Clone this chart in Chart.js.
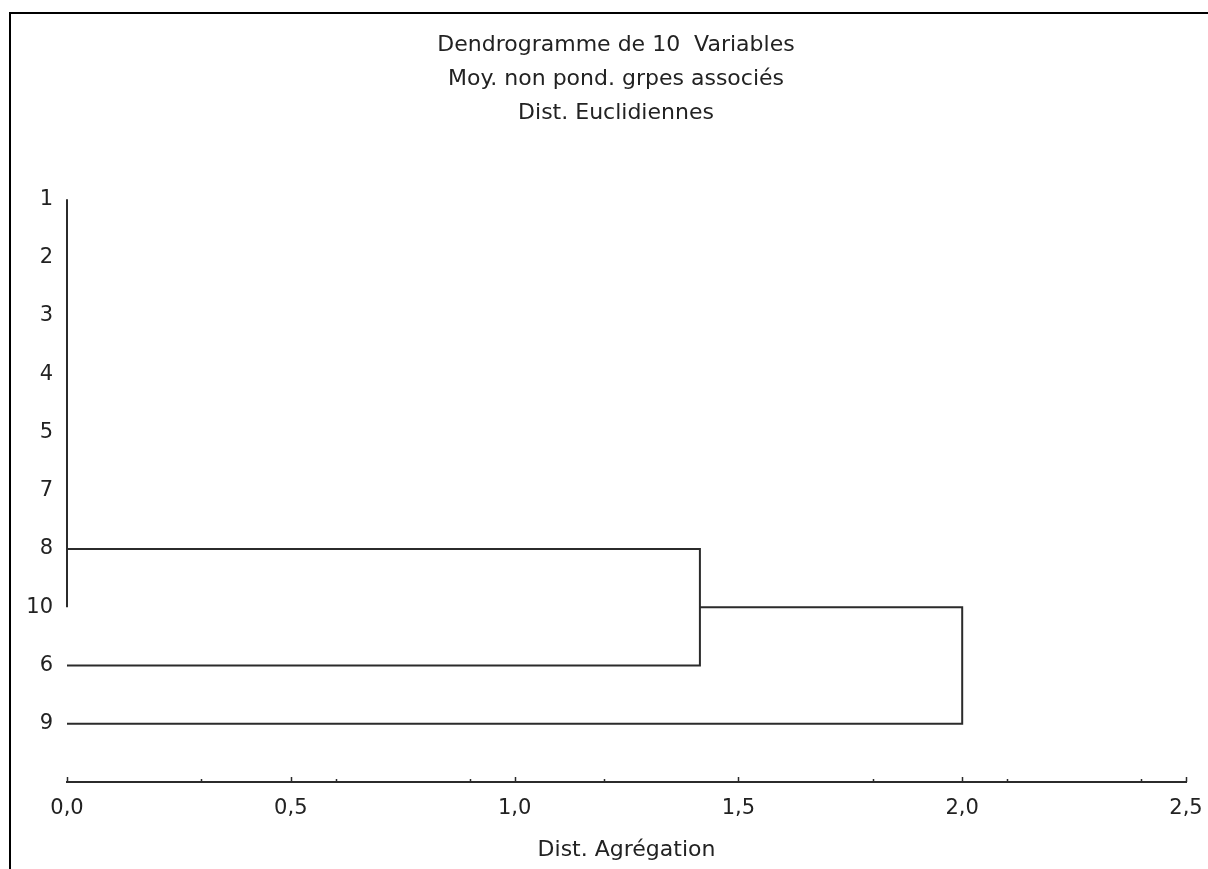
<!DOCTYPE html>
<html>
<head>
<meta charset="utf-8">
<script src="https://cdn.jsdelivr.net/npm/chart.js@4.4.1/dist/chart.umd.min.js"></script>
<style>
body { margin: 0; background: #fff; }
#wrap { position: relative; width: 1208px; height: 869px; }
</style>
</head>
<body>
<div id="wrap"><canvas id="myChart"></canvas></div>
<script>
// leaves from top to bottom, in dendrogram order
const leafLabels = ['1', '2', '3', '4', '5', '7', '8', '10', '6', '9'];

// one entry per join: row of each branch (1 = top leaf), where each branch starts, join distance
const joinDist  = [0, 1.414, 2.0];
const joinRowA  = [1, 7, 8];
const joinRowB  = [8, 9, 10];
const joinFromA = [0, 0, 1.414];
const joinFromB = [0, 0, 0];

const xTicks = [0, 0.5, 1.0, 1.5, 2.0, 2.5];
const xMinorTicks = [0.3, 0.6, 0.9, 1.2, 1.8, 2.1, 2.4];

const titleLines = ['Dendrogramme de 10  Variables', 'Moy. non pond. grpes associés', 'Dist. Euclidiennes'];
const xTitle = 'Dist. Agrégation';

const lineColor = '#2b2b2b';
const textColor = '#222';

Chart.defaults.font.family = "'DejaVu Sans', sans-serif";
Chart.defaults.color = textColor;

var datasets = joinDist.map(function (d, i) {
    return {
        data: [
            {x: joinFromA[i], y: joinRowA[i]},
            {x: d, y: joinRowA[i]},
            {x: d, y: joinRowB[i]},
            {x: joinFromB[i], y: joinRowB[i]}
        ],
        showLine: true,
        borderColor: lineColor,
        borderWidth: 2,
        pointRadius: 0,
        tension: 0,
        clip: false
    };
});

// frame, stacked title and the little up-pointing tick marks
const decorations = {
    id: 'decorations',
    beforeDraw(chart) {
        const ctx = chart.ctx;
        ctx.save();
        ctx.fillStyle = '#fff';
        ctx.fillRect(0, 0, chart.width, chart.height);
        ctx.fillStyle = '#000';
        ctx.fillRect(9, 12, chart.width, 2);
        ctx.fillRect(9, 12, 2, chart.height);
        ctx.restore();
    },
    afterDraw(chart) {
        const ctx = chart.ctx;
        const xs = chart.scales.x;
        const base = chart.chartArea.bottom;
        ctx.save();
        ctx.strokeStyle = lineColor;
        ctx.lineWidth = 1.5;
        xTicks.forEach(v => {
            const px = Math.round(xs.getPixelForValue(v)) + 0.5;
            ctx.beginPath(); ctx.moveTo(px, base); ctx.lineTo(px, base - 5); ctx.stroke();
        });
        xMinorTicks.forEach(v => {
            const px = Math.round(xs.getPixelForValue(v)) + 0.5;
            ctx.beginPath(); ctx.moveTo(px, base); ctx.lineTo(px, base - 3); ctx.stroke();
        });
        ctx.fillStyle = textColor;
        ctx.font = "22px 'DejaVu Sans', sans-serif";
        ctx.textAlign = 'center';
        ctx.textBaseline = 'alphabetic';
        titleLines.forEach((t, i) => ctx.fillText(t, 616, 51 + i * 34));
        ctx.restore();
    }
};

const config = {
    type: 'scatter',
    data: {datasets: datasets},
    options: {
        responsive: true,
        maintainAspectRatio: false,
        animation: false,
        layout: {
            padding: {top: 141, right: 22, left: 0, bottom: 0}
        },
        plugins: {
            legend: {display: false},
            tooltip: {enabled: false}
        },
        scales: {
            x: {
                type: 'linear',
                min: 0,
                max: 2.5,
                afterBuildTicks: scale => { scale.ticks = xTicks.map(v => ({value: v})); },
                afterFit: scale => {
                    scale.height = 87;
                    scale.paddingLeft = 0;
                    scale.paddingRight = 0;
                },
                grid: {display: false, drawTicks: false},
                border: {display: true, color: lineColor, width: 2},
                ticks: {
                    padding: 14,
                    font: {size: 21},
                    color: textColor,
                    callback: v => v.toFixed(1).replace('.', ',')
                },
                title: {
                    display: true,
                    text: xTitle,
                    font: {size: 22},
                    color: textColor,
                    padding: {top: 0, bottom: 6}
                }
            },
            y: {
                type: 'linear',
                reverse: true,
                min: 0,
                max: 11,
                afterBuildTicks: scale => { scale.ticks = leafLabels.map((_, i) => ({value: i + 1})); },
                afterFit: scale => { scale.width = 67; },
                grid: {display: false, drawTicks: false},
                border: {display: false},
                ticks: {
                    padding: 14,
                    font: {size: 21},
                    color: textColor,
                    callback: v => leafLabels[v - 1]
                }
            }
        }
    },
    plugins: [decorations]
};

var myChart = new Chart(document.getElementById('myChart'), config);
</script>
</body>
</html>
